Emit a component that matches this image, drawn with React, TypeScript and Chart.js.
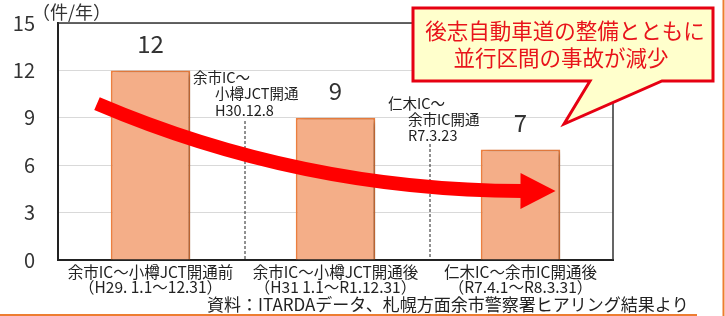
import React, { useEffect, useRef } from "react";
import { Chart, registerables } from "chart.js";

Chart.register(...registerables);

const categories: string[][] = [
  ["余市IC～小樽JCT開通前", "（H29. 1.1～12.31）"],
  ["余市IC～小樽JCT開通後", "（H31 1.1～R1.12.31）"],
  ["仁木IC～余市IC開通後", "（R7.4.1～R8.3.31）"],
];
const accidents: number[] = [12, 9, 7];
const yTicks: number[] = [0, 3, 6, 9, 12, 15];
const unitLabel = "（件/年）";
const calloutLines: string[] = ["後志自動車道の整備とともに", "並行区間の事故が減少"];
const milestone1: string[] = ["余市IC～", "小樽JCT開通", "H30.12.8"];
const milestone2: string[] = ["仁木IC～", "余市IC開通", "R7.3.23"];
const sourceNote = "資料：ITARDAデータ、札幌方面余市警察署ヒアリング結果より";

const JP = "'Noto Sans CJK JP', 'Noto Sans', sans-serif";

const barShadow = {
  id: "barShadow",
  beforeDatasetDraw(chart: any) {
    const ctx = chart.ctx;
    ctx.save();
    ctx.shadowColor = "rgba(0,0,0,0.28)";
    ctx.shadowBlur = 6;
    ctx.shadowOffsetX = 4;
    ctx.shadowOffsetY = 2;
  },
  afterDatasetDraw(chart: any) {
    chart.ctx.restore();
  },
};

const decorations = {
  id: "decorations",
  afterDraw(chart: any) {
    const ctx: CanvasRenderingContext2D = chart.ctx;
    const xs = chart.scales.x;
    const ys = chart.scales.y;
    const area = chart.chartArea;

    // box top/right border
    ctx.save();
    ctx.strokeStyle = "#333";
    ctx.lineWidth = 1.5;
    ctx.beginPath();
    ctx.moveTo(area.left, area.top);
    ctx.lineTo(area.right, area.top);
    ctx.lineTo(area.right, area.bottom);
    ctx.stroke();
    ctx.restore();

    // unit label
    ctx.save();
    ctx.fillStyle = "#333";
    ctx.font = `18px ${JP}`;
    ctx.textAlign = "left";
    ctx.textBaseline = "middle";
    ctx.fillText(unitLabel, 32, 12);
    ctx.restore();

    // value labels
    const meta = chart.getDatasetMeta(0);
    ctx.save();
    ctx.fillStyle = "#333";
    ctx.font = `24px ${JP}`;
    ctx.textAlign = "center";
    ctx.textBaseline = "middle";
    meta.data.forEach((bar: any, i: number) => {
      ctx.fillText(String(accidents[i]), bar.x, bar.y - 27);
    });
    ctx.restore();

    // milestone dashed lines
    const d1 = (xs.getPixelForValue(0) + xs.getPixelForValue(1)) / 2 + 2;
    const d2 = (xs.getPixelForValue(1) + xs.getPixelForValue(2)) / 2 + 2;
    ctx.save();
    ctx.strokeStyle = "#222";
    ctx.lineWidth = 1;
    ctx.setLineDash([3, 2]);
    ctx.beginPath();
    ctx.moveTo(d1, 121);
    ctx.lineTo(d1, area.bottom);
    ctx.moveTo(d2, 144);
    ctx.lineTo(d2, area.bottom);
    ctx.stroke();
    ctx.restore();

    ctx.save();
    ctx.fillStyle = "#222";
    ctx.font = `14.5px ${JP}`;
    ctx.textAlign = "left";
    ctx.textBaseline = "middle";
    ctx.fillText(milestone1[0], 193, 77);
    ctx.fillText(milestone1[1], 215, 93);
    ctx.fillText(milestone1[2], 215, 110);
    ctx.fillText(milestone2[0], 388, 103);
    ctx.fillText(milestone2[1], 408, 119);
    ctx.fillText(milestone2[2], 408, 135);
    ctx.restore();

    // big red curved arrow
    const p0x = xs.getPixelForValue(0) - 53.5;
    const p0y = ys.getPixelForValue(9.9);
    const cx = xs.getPixelForValue(1) - 35;
    const cy = ys.getPixelForValue(4.4);
    const p2x = xs.getPixelForValue(2);
    const p2y = ys.getPixelForValue(4.37);
    ctx.save();
    ctx.strokeStyle = "#FF0000";
    ctx.fillStyle = "#FF0000";
    ctx.lineWidth = 14;
    ctx.lineCap = "butt";
    ctx.beginPath();
    ctx.moveTo(p0x, p0y);
    ctx.quadraticCurveTo(cx, cy, p2x + 2, p2y);
    ctx.stroke();
    const ang = Math.atan2(p2y - cy, p2x - cx);
    const ux = Math.cos(ang);
    const uy = Math.sin(ang);
    const hw = 18;
    const hl = 35;
    ctx.beginPath();
    ctx.moveTo(p2x - uy * hw, p2y + ux * hw);
    ctx.lineTo(p2x + ux * hl, p2y + uy * hl);
    ctx.lineTo(p2x + uy * hw, p2y - ux * hw);
    ctx.closePath();
    ctx.fill();
    ctx.restore();

    // callout
    ctx.save();
    ctx.beginPath();
    ctx.moveTo(413, 8);
    ctx.lineTo(713, 8);
    ctx.lineTo(713, 81);
    ctx.lineTo(662, 81);
    ctx.lineTo(564, 124);
    ctx.lineTo(590, 81);
    ctx.lineTo(413, 81);
    ctx.closePath();
    ctx.fillStyle = "#FFFFCC";
    ctx.fill();
    ctx.strokeStyle = "#E60012";
    ctx.lineWidth = 3;
    ctx.lineJoin = "miter";
    ctx.stroke();
    ctx.fillStyle = "#E8141B";
    ctx.font = `21.5px ${JP}`;
    ctx.textAlign = "center";
    ctx.textBaseline = "middle";
    ctx.fillText(calloutLines[0], 565, 31);
    ctx.fillText(calloutLines[1], 561, 58);
    ctx.restore();

    // source note
    ctx.save();
    ctx.fillStyle = "#222";
    ctx.font = `17px ${JP}`;
    ctx.textAlign = "left";
    ctx.textBaseline = "middle";
    ctx.fillText(sourceNote, 207, 305);
    ctx.restore();

    // orange frame lines
    ctx.save();
    ctx.strokeStyle = "#ED7D31";
    ctx.lineWidth = 2;
    ctx.beginPath();
    ctx.moveTo(0, 315);
    ctx.lineTo(697, 315);
    ctx.moveTo(723.5, 0);
    ctx.lineTo(723.5, 316);
    ctx.stroke();
    ctx.restore();
  },
};

export default function App() {
  const ref = useRef<HTMLCanvasElement | null>(null);

  useEffect(() => {
    if (!ref.current) return;
    const chart = new Chart(ref.current, {
      type: "bar",
      data: {
        labels: categories,
        datasets: [
          {
            data: accidents,
            backgroundColor: "#F4AE88",
            borderColor: "#EE8040",
            borderWidth: 2,
            categoryPercentage: 1,
            barPercentage: 0.43,
          },
        ],
      },
      options: {
        responsive: false,
        animation: false,
        devicePixelRatio: 1,
        layout: { padding: { top: 23, right: 112, left: 0, bottom: 0 } },
        plugins: {
          legend: { display: false },
          tooltip: { enabled: false },
          title: { display: false },
        },
        scales: {
          x: {
            grid: { display: false, drawTicks: false },
            border: { display: true, color: "#222", width: 2 },
            ticks: {
              color: "#222",
              font: { family: JP, size: 15.5, lineHeight: 0.95 },
              padding: 5,
              maxRotation: 0,
              autoSkip: false,
            },
            afterFit(scale: any) {
              scale.height = 56;
              scale.paddingLeft = 0;
              scale.paddingRight = 0;
            },
          },
          y: {
            min: 0,
            max: 15,
            afterBuildTicks(scale: any) {
              scale.ticks = yTicks.map((v) => ({ value: v }));
            },
            grid: { color: "#D9D9D9", lineWidth: 1, drawTicks: false },
            border: { display: true, color: "#222", width: 2 },
            ticks: {
              color: "#333",
              font: { family: JP, size: 20 },
              padding: 23,
            },
            afterFit(scale: any) {
              scale.width = 58;
              scale.paddingTop = 0;
              scale.paddingBottom = 0;
            },
          },
        },
      },
      plugins: [barShadow, decorations],
    });
    return () => chart.destroy();
  }, []);

  return (
    <div style={{ position: "absolute", left: 0, top: 0, width: 725, height: 316, background: "#fff" }}>
      <canvas ref={ref} width={725} height={316} />
    </div>
  );
}
